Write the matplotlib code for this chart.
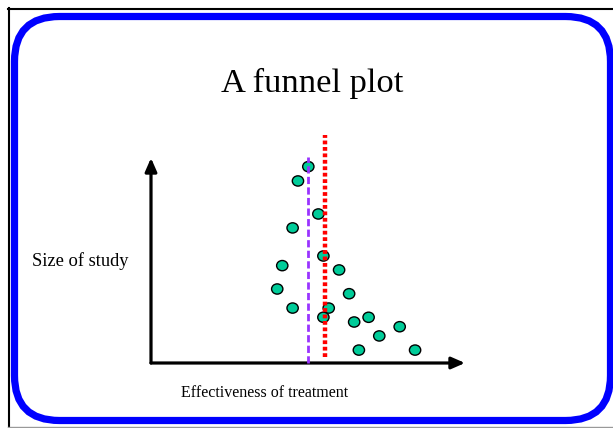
import matplotlib.pyplot as plt
from matplotlib.patches import FancyBboxPatch, Ellipse

# study results: effectiveness (x) and size of study (y), arbitrary units 0-10
effect = [5.01, 4.68, 5.33, 4.51, 5.49, 4.18, 5.99, 4.02, 6.31,
          4.51, 5.66, 5.49, 6.47, 6.93, 7.92, 7.27, 6.62, 8.41]
size = [9.58, 8.88, 7.27, 6.59, 5.22, 4.75, 4.54, 3.61, 3.38,
        2.68, 2.68, 2.23, 2.00, 2.23, 1.77, 1.32, 0.63, 0.63]

true_effect = 5.01      # purple dashed line
pooled_effect = 5.55    # red dotted line

W, H = 613, 428
fig = plt.figure(figsize=(W / 100, H / 100), dpi=100)

# background layer in pixel units
bg = fig.add_axes([0, 0, 1, 1])
bg.set_xlim(0, W)
bg.set_ylim(H, 0)
bg.axis('off')

bg.plot([8.5, 8.5], [8, H], color='black', lw=1.5)
bg.plot([8, W], [8.5, 8.5], color='black', lw=1.5)
bg.plot([8, W], [426.5, 426.5], color='#999999', lw=1)

box = FancyBboxPatch((14.5 + 45, 16.5 + 45), 596 - 90, 404 - 90,
                     boxstyle='round,pad=45', fill=False,
                     edgecolor='#0000FF', lw=5.2)
bg.add_patch(box)

serif = ['Liberation Serif', 'DejaVu Serif']
bg.text(312, 92, 'A funnel plot', fontsize=24.8, family=serif,
        ha='center', va='baseline')
bg.text(32, 266, 'Size of study', fontsize=13.3, family=serif,
        ha='left', va='baseline')
bg.text(265, 397, 'Effectiveness of treatment', fontsize=11.5, family=serif,
        ha='center', va='baseline')

# plot area
x0, y0, x1, y1 = 151, 363, 465, 158
ax = fig.add_axes([x0 / W, (H - y0) / H, (x1 - x0) / W, (y0 - y1) / H])
ax.set_xlim(0, 10)
ax.set_ylim(0, 10)
ax.axis('off')

arrow = dict(arrowstyle='-|>,head_length=0.8,head_width=0.35',
             color='black', lw=2.3, shrinkA=0, shrinkB=0)
ax.annotate('', xy=(10, 0), xytext=(0, 0), arrowprops=arrow,
            annotation_clip=False)
ax.annotate('', xy=(0, 10), xytext=(0, 0), arrowprops=arrow,
            annotation_clip=False)

for e, s in zip(effect, size):
    ax.add_patch(Ellipse((e, s), 0.36, 0.5, facecolor='#00CC99',
                         edgecolor='black', lw=1, zorder=3))

ax.plot([true_effect, true_effect], [0, 10.05], color='#9933FF', lw=2,
        dashes=(2.6, 1.2), zorder=4, clip_on=False)
ax.plot([pooled_effect, pooled_effect], [0.3, 11.1], color='#FF0000', lw=3.2,
        dashes=(0.85, 0.6), zorder=4, clip_on=False)

fig.savefig('out.png', dpi=100)
